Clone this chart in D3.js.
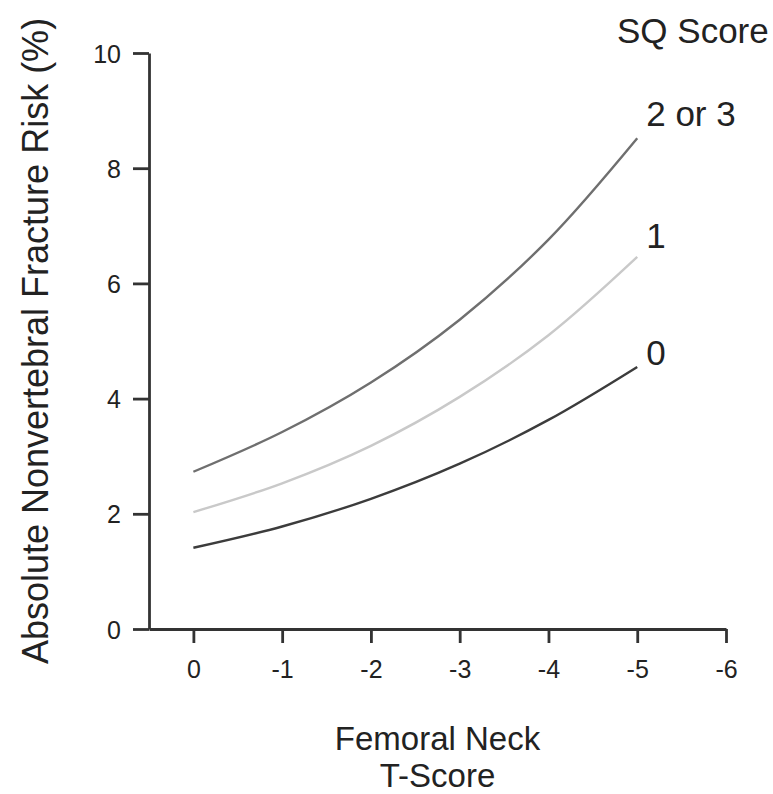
<!DOCTYPE html>
<html>
<head>
<meta charset="utf-8">
<script src="https://cdn.jsdelivr.net/npm/d3@7"></script>
<style>
  body { margin: 0; background: #fff; }
  svg text { font-family: "Liberation Sans", Arial, sans-serif; fill: #222; }
</style>
</head>
<body>
<svg id="chart" width="773" height="794"></svg>
<script>
/*** Data ***/
var tScores = [0, -1, -2, -3, -4, -5];
var seriesNames = ["2 or 3", "1", "0"];
var risk23 = [2.73, 3.42, 4.28, 5.37, 6.76, 8.52];
var risk1 = [2.03, 2.53, 3.18, 4.03, 5.10, 6.46];
var risk0 = [1.41, 1.78, 2.26, 2.87, 3.63, 4.55];
var xTicks = [0, -1, -2, -3, -4, -5, -6];
var yTicks = [0, 2, 4, 6, 8, 10];

/*** Draw ***/
var svg = d3.select("#chart");

var x = d3.scaleLinear().domain([0.5, -6]).range([149, 726]);
var y = d3.scaleLinear().domain([0, 10]).range([629, 53]);

var colors = ["#6f6f6f", "#c9c9c9", "#3c3c3c"];
var allSeries = [risk23, risk1, risk0];

// axes
var yAxis = svg.append("g")
  .attr("transform", "translate(" + x.range()[0] + ",0)")
  .call(d3.axisLeft(y).tickValues(yTicks).tickSize(16).tickSizeOuter(0).tickPadding(12));
var xAxis = svg.append("g")
  .attr("transform", "translate(0," + y.range()[0] + ")")
  .call(d3.axisBottom(x).tickValues(xTicks).tickSize(14).tickSizeOuter(0).tickPadding(12)
    .tickFormat(d => d === 0 ? "0" : "-" + Math.abs(d)));

[yAxis, xAxis].forEach(a => {
  a.select(".domain").attr("stroke", "#333").attr("stroke-width", 2.8);
  a.selectAll(".tick line").attr("stroke", "#333").attr("stroke-width", 2.8);
  a.selectAll(".tick text").attr("font-size", "25px").attr("fill", "#222")
    .style("font-family", "'Liberation Sans', Arial, sans-serif");
});
yAxis.selectAll(".tick text").attr("dy", "0.36em");
xAxis.selectAll(".tick text").attr("dy", "0.9em");

// curves
var line = d3.line()
  .x((d, i) => x(tScores[i]))
  .y(d => y(d))
  .curve(d3.curveCatmullRom.alpha(0.5));

svg.append("g").selectAll("path").data(allSeries).enter()
  .append("path")
    .attr("d", line)
    .attr("fill", "none")
    .attr("stroke", (d, i) => colors[i])
    .attr("stroke-width", 2.4);

// series labels
var labelDy = [-12, -9, -2];
svg.append("g").selectAll("text").data(allSeries).enter()
  .append("text")
    .attr("x", x(tScores[tScores.length - 1]) + 9)
    .attr("y", (d, i) => y(d[d.length - 1]) + labelDy[i])
    .attr("font-size", "35px")
    .text((d, i) => seriesNames[i]);

svg.append("text")
  .attr("x", 617).attr("y", 43)
  .attr("font-size", "35px")
  .text("SQ Score");

// axis titles
var xMid = (x.range()[0] + x.range()[1]) / 2;
svg.append("text")
  .attr("x", xMid).attr("y", 750)
  .attr("text-anchor", "middle").attr("font-size", "33px")
  .text("Femoral Neck");
svg.append("text")
  .attr("x", xMid).attr("y", 787)
  .attr("text-anchor", "middle").attr("font-size", "33px")
  .text("T-Score");

var yMid = (y.range()[0] + y.range()[1]) / 2;
svg.append("text")
  .attr("transform", "translate(48," + yMid + ") rotate(-90)")
  .attr("text-anchor", "middle").attr("font-size", "36px")
  .text("Absolute Nonvertebral Fracture Risk (%)");
</script>
</body>
</html>
